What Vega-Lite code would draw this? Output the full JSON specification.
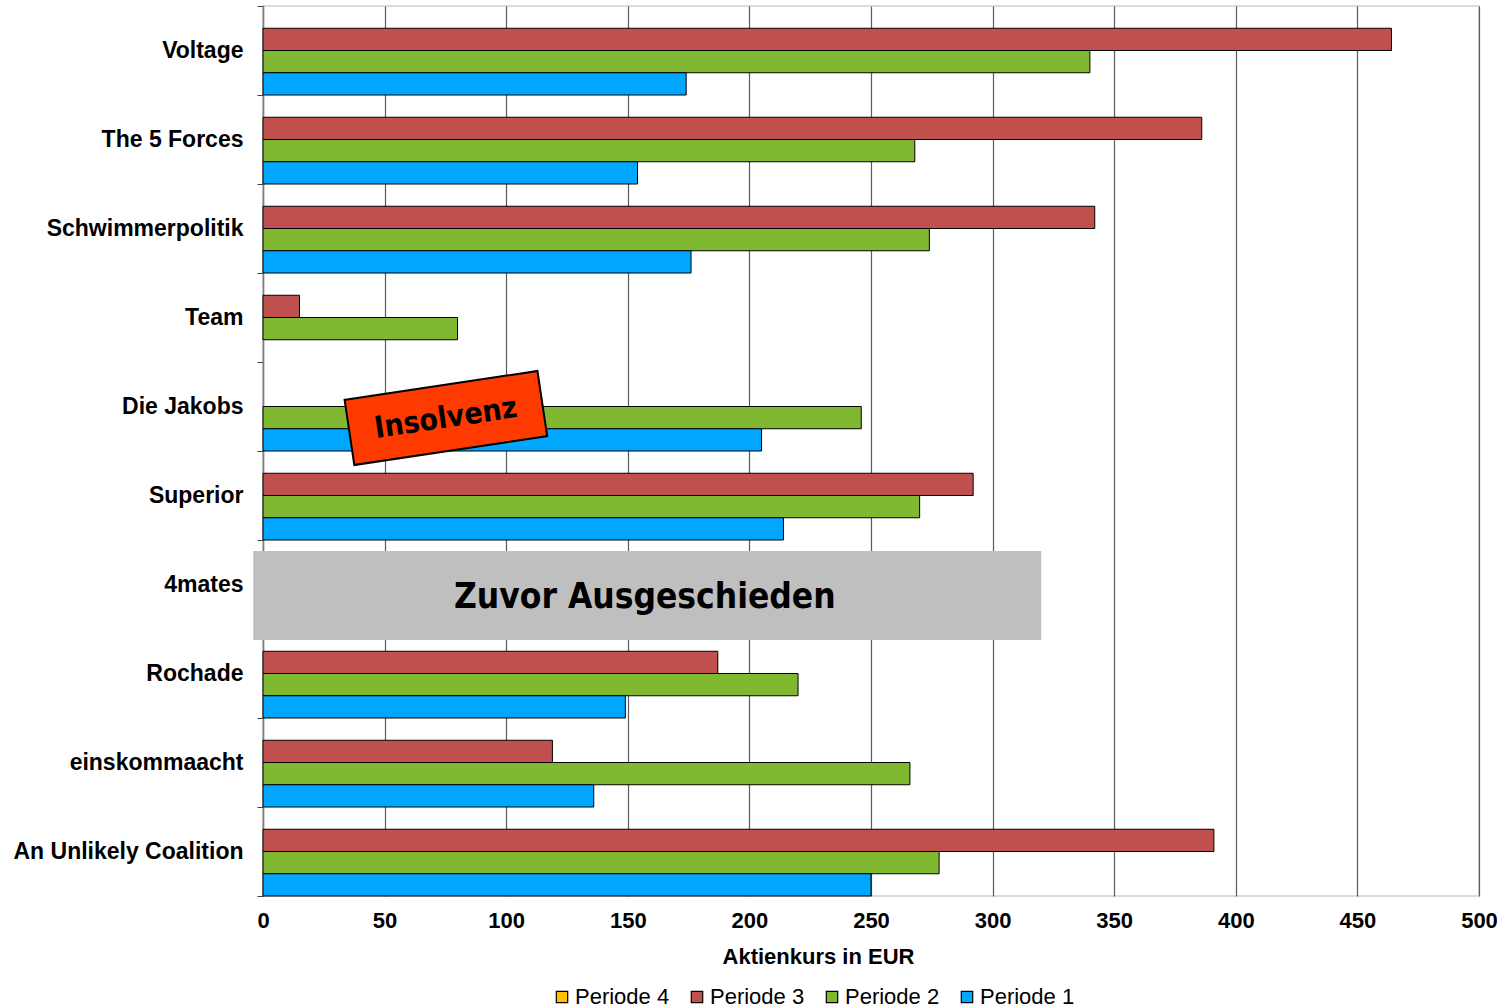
{
  "$schema": "https://vega.github.io/schema/vega-lite/v6.json",
  "width": 1216,
  "height": 890,
  "autosize": {"type": "none"},
  "padding": {"left": 263, "top": 6, "right": 29, "bottom": 112},
  "background": "white",
  "config": {
    "font": "Liberation Sans",
    "view": {"stroke": "#D0D0D0", "strokeWidth": 1.5}
  },
  "datasets": {
    "bars": [
      {"team": "Voltage", "periode": "Periode 3", "kurs": 464},
      {"team": "Voltage", "periode": "Periode 2", "kurs": 340},
      {"team": "Voltage", "periode": "Periode 1", "kurs": 174},
      {"team": "The 5 Forces", "periode": "Periode 3", "kurs": 386},
      {"team": "The 5 Forces", "periode": "Periode 2", "kurs": 268},
      {"team": "The 5 Forces", "periode": "Periode 1", "kurs": 154},
      {"team": "Schwimmerpolitik", "periode": "Periode 3", "kurs": 342},
      {"team": "Schwimmerpolitik", "periode": "Periode 2", "kurs": 274},
      {"team": "Schwimmerpolitik", "periode": "Periode 1", "kurs": 176},
      {"team": "Team", "periode": "Periode 3", "kurs": 15},
      {"team": "Team", "periode": "Periode 2", "kurs": 80},
      {"team": "Die Jakobs", "periode": "Periode 2", "kurs": 246},
      {"team": "Die Jakobs", "periode": "Periode 1", "kurs": 205},
      {"team": "Superior", "periode": "Periode 3", "kurs": 292},
      {"team": "Superior", "periode": "Periode 2", "kurs": 270},
      {"team": "Superior", "periode": "Periode 1", "kurs": 214},
      {"team": "Rochade", "periode": "Periode 3", "kurs": 187},
      {"team": "Rochade", "periode": "Periode 2", "kurs": 220},
      {"team": "Rochade", "periode": "Periode 1", "kurs": 149},
      {"team": "einskommaacht", "periode": "Periode 3", "kurs": 119},
      {"team": "einskommaacht", "periode": "Periode 2", "kurs": 266},
      {"team": "einskommaacht", "periode": "Periode 1", "kurs": 136},
      {"team": "An Unlikely Coalition", "periode": "Periode 3", "kurs": 391},
      {"team": "An Unlikely Coalition", "periode": "Periode 2", "kurs": 278},
      {"team": "An Unlikely Coalition", "periode": "Periode 1", "kurs": 250}
    ],
    "grey": [
      {"team": "4mates", "x0": -4, "x1": 320, "xt": 157, "label": "Zuvor Ausgeschieden"}
    ],
    "insolvenz": [
      {"team": "Die Jakobs", "x": 75.2, "label": "Insolvenz"}
    ]
  },
  "encoding": {
    "y": {
      "field": "team",
      "type": "nominal",
      "scale": {
        "domain": ["Voltage", "The 5 Forces", "Schwimmerpolitik", "Team", "Die Jakobs", "Superior", "4mates", "Rochade", "einskommaacht", "An Unlikely Coalition"],
        "paddingInner": 0,
        "paddingOuter": 0
      },
      "axis": {
        "title": null,
        "labelFont": "Liberation Sans",
        "labelFontWeight": "bold",
        "labelFontSize": 23,
        "labelColor": "black",
        "labelPadding": 14,
        "labelLimit": 300,
        "tickBand": "extent",
        "tickSize": 6,
        "tickColor": "#404040",
        "domainColor": "#808080",
        "domainWidth": 1.5,
        "grid": false
      }
    }
  },
  "layer": [
    {
      "data": {"name": "bars"},
      "mark": {"type": "bar", "stroke": "black", "strokeWidth": 1},
      "encoding": {
        "x": {
          "field": "kurs",
          "type": "quantitative",
          "scale": {"domain": [0, 500], "nice": false},
          "axis": {
            "title": "Aktienkurs in EUR",
            "titleFont": "Liberation Sans",
            "titleFontWeight": "bold",
            "titleFontSize": 22,
            "titleColor": "black",
            "titleX": 555,
            "titlePadding": 15,
            "values": [0, 50, 100, 150, 200, 250, 300, 350, 400, 450, 500],
            "labelFont": "Liberation Sans",
            "labelFontWeight": "bold",
            "labelFontSize": 22,
            "labelColor": "black",
            "labelPadding": 14,
            "labelFlush": false,
            "ticks": false,
            "domain": false,
            "grid": true,
            "gridColor": "#5A5A5A",
            "gridWidth": 1.2,
            "gridOpacity": 1
          }
        },
        "yOffset": {
          "field": "periode",
          "type": "nominal",
          "scale": {
            "domain": ["Periode 4", "Periode 3", "Periode 2", "Periode 1"],
            "paddingInner": 0,
            "paddingOuter": 0
          }
        },
        "color": {
          "field": "periode",
          "type": "nominal",
          "scale": {
            "domain": ["Periode 4", "Periode 3", "Periode 2", "Periode 1"],
            "range": ["#FFC000", "#C0504D", "#80B832", "#00A6FF"]
          },
          "legend": {
            "title": null,
            "orient": "none",
            "direction": "horizontal",
            "columns": 4,
            "legendX": 288,
            "legendY": 980,
            "symbolType": "square",
            "symbolSize": 130,
            "symbolStrokeColor": "black",
            "symbolStrokeWidth": 1.2,
            "symbolOpacity": 1,
            "labelFont": "Liberation Sans",
            "labelFontSize": 22,
            "labelColor": "black",
            "labelOffset": 2,
            "labelLimit": 300,
            "columnPadding": 16
          }
        }
      }
    },
    {
      "data": {"name": "grey"},
      "mark": {"type": "rect", "color": "#BFBFBF", "yOffset": 11, "clip": false},
      "encoding": {
        "x": {"field": "x0", "type": "quantitative"},
        "x2": {"field": "x1"}
      }
    },
    {
      "data": {"name": "grey"},
      "mark": {"type": "text", "font": "DejaVu Sans Condensed, Liberation Sans Narrow, sans-serif", "fontWeight": "bold", "fontSize": 35, "color": "black", "yOffset": 12, "baseline": "middle", "align": "center"},
      "encoding": {
        "x": {"field": "xt", "type": "quantitative"},
        "text": {"field": "label"}
      }
    },
    {
      "data": {"name": "insolvenz"},
      "mark": {"type": "point", "shape": "M-1,-0.338L1,-0.338L1,0.338L-1,0.338Z", "size": 38025, "filled": true, "fill": "#FF3A00", "stroke": "black", "strokeWidth": 2, "opacity": 1, "fillOpacity": 1, "angle": 351.5, "yOffset": 11.5},
      "encoding": {
        "x": {"field": "x", "type": "quantitative"}
      }
    },
    {
      "data": {"name": "insolvenz"},
      "mark": {"type": "text", "font": "DejaVu Sans Condensed, Liberation Sans Narrow, sans-serif", "fontWeight": "bold", "fontSize": 30, "color": "black", "angle": 351.5, "yOffset": 12, "baseline": "middle", "align": "center"},
      "encoding": {
        "x": {"field": "x", "type": "quantitative"},
        "text": {"field": "label"}
      }
    }
  ]
}
